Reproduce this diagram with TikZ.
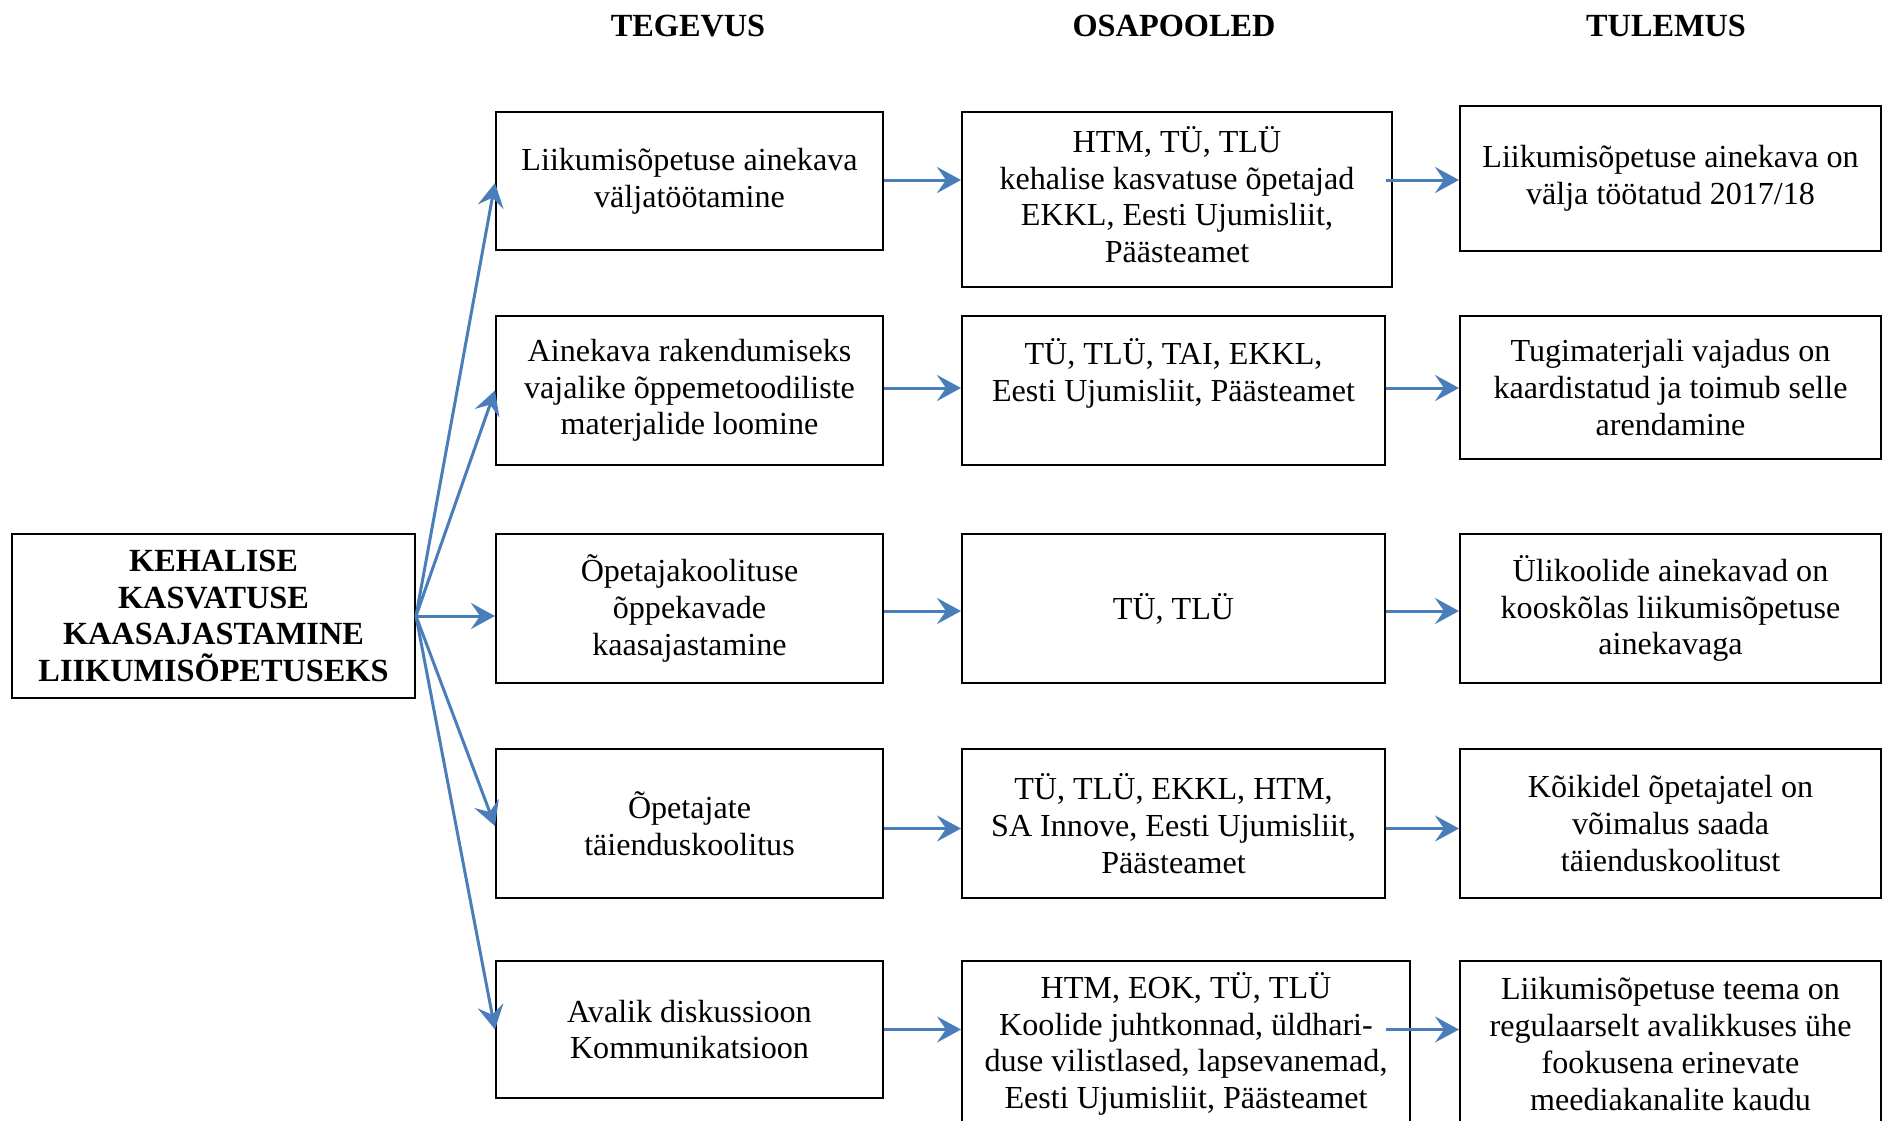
\documentclass[tikz,border=0pt]{standalone}
\usepackage{fontspec}
\setmainfont{Liberation Serif}
\usetikzlibrary{arrows.meta,calc}
\definecolor{arrowblue}{HTML}{4A7EBB}
\tikzset{
  box/.style={draw=black, line width=2pt, align=center, inner sep=0pt,
    font=\fontsize{32.1}{36.7}\selectfont},
  hdr/.style={font=\fontsize{32.3}{36.7}\selectfont\bfseries, inner sep=0pt},
  arr/.style={draw=arrowblue, line width=3pt,
    -{Stealth[length=24pt,width=26pt,inset=9pt]}},
}
\begin{document}
\begin{tikzpicture}[x=1pt,y=-1pt]
\useasboundingbox (0,0) rectangle (1883,1120);
\clip (0,0) rectangle (1883,1120);
\fill[white] (0,0) rectangle (1883,1120);
% headers
\node[hdr] (h1) at (688,26) {TEGEVUS};
\node[hdr] (h2) at (1174,26) {OSAPOOLED};
\node[hdr] (h3) at (1666,26) {TULEMUS};
% main box
\node[box, font=\fontsize{32.3}{36.7}\selectfont\bfseries, minimum width=403pt, minimum height=164pt] (m) at (213.5,616)
  {KEHALISE\\KASVATUSE\\KAASAJASTAMINE\\LIIKUMISÕPETUSEKS};
% column 1
\node[box, minimum width=387pt, minimum height=138pt] (a1) at (689.5,181) {Liikumisõpetuse ainekava\\väljatöötamine};
\node[box, minimum width=387pt, minimum height=149pt] (a2) at (689.5,390.5) {Ainekava rakendumiseks\\vajalike õppemetoodiliste\\materjalide loomine};
\node[box, minimum width=387pt, minimum height=149pt] (a3) at (689.5,608.5) {Õpetajakoolituse\\õppekavade\\kaasajastamine};
\node[box, minimum width=387pt, minimum height=149pt] (a4) at (689.5,823.5) {Õpetajate\\täienduskoolitus};
\node[box, minimum width=387pt, minimum height=137pt] (a5) at (689.5,1029.5) {Avalik diskussioon\\Kommunikatsioon};
% column 2
\node[box, minimum width=430pt, minimum height=175pt] (b1) at (1177,199.5) {HTM, TÜ, TLÜ\\kehalise kasvatuse õpetajad\\EKKL, Eesti Ujumisliit,\\Päästeamet\\[-26.7pt]\mbox{}};
\node[box, minimum width=423pt, minimum height=149pt] (b2) at (1173.5,390.5) {TÜ, TLÜ, TAI, EKKL,\\Eesti Ujumisliit, Päästeamet\\[4pt]\mbox{}};
\node[box, minimum width=423pt, minimum height=149pt] (b3) at (1173.5,608.5) {TÜ, TLÜ};
\node[box, minimum width=423pt, minimum height=149pt] (b4) at (1173.5,823.5) {TÜ, TLÜ, EKKL, HTM,\\SA Innove, Eesti Ujumisliit,\\Päästeamet};
\node[box, minimum width=448pt, minimum height=166pt] (b5) at (1186,1044) {HTM, EOK, TÜ, TLÜ\\Koolide juhtkonnad, üldhari-\\duse vilistlased, lapsevanemad,\\Eesti Ujumisliit, Päästeamet};
% column 3
\node[box, minimum width=421pt, minimum height=145pt] (c1) at (1670.5,178.5) {Liikumisõpetuse ainekava on\\välja töötatud 2017/18};
\node[box, minimum width=421pt, minimum height=143pt] (c2) at (1670.5,387.5) {Tugimaterjali vajadus on\\kaardistatud ja toimub selle\\arendamine};
\node[box, minimum width=421pt, minimum height=149pt] (c3) at (1670.5,608.5) {Ülikoolide ainekavad on\\kooskõlas liikumisõpetuse\\ainekavaga};
\node[box, minimum width=421pt, minimum height=149pt] (c4) at (1670.5,823.5) {Kõikidel õpetajatel on\\võimalus saada\\täienduskoolitust};
\node[box, minimum width=421pt, minimum height=166pt] (c5) at (1670.5,1044) {Liikumisõpetuse teema on\\regulaarselt avalikkuses ühe\\fookusena erinevate\\meediakanalite kaudu};
% fan arrows
\draw[arr] (m.east) -- ($(a1.west)+(0,2)$);
\draw[arr] (m.east) -- (a2.west);
\draw[arr] (m.east) -- (a3.west |- m.east);
\draw[arr] (m.east) -- ($(a4.west)+(0,2.5)$);
\draw[arr] (m.east) -- (a5.west);
% col1 -> col2
\draw[arr] ($(a1.east)+(0,-1)$) -- ($(a1.east -| b1.west)+(0,-1)$);
\draw[arr] ($(a2.east)+(0,-2.5)$) -- ($(a2.east -| b2.west)+(0,-2.5)$);
\draw[arr] ($(a3.east)+(0,2.5)$) -- ($(a3.east -| b3.west)+(0,2.5)$);
\draw[arr] ($(a4.east)+(0,5)$) -- ($(a4.east -| b4.west)+(0,5)$);
\draw[arr] (a5.east) -- (a5.east -| b5.west);
% col2 -> col3
\draw[arr] ($(a1.east -| b2.east)+(0,-1)$) -- ($(a1.east -| c1.west)+(0,-1)$);
\draw[arr] ($(a2.east -| b2.east)+(0,-2.5)$) -- ($(a2.east -| c2.west)+(0,-2.5)$);
\draw[arr] ($(a3.east -| b3.east)+(0,2.5)$) -- ($(a3.east -| c3.west)+(0,2.5)$);
\draw[arr] ($(a4.east -| b4.east)+(0,5)$) -- ($(a4.east -| c4.west)+(0,5)$);
\draw[arr] (a5.east -| b2.east) -- (a5.east -| c5.west);
\end{tikzpicture}
\end{document}
